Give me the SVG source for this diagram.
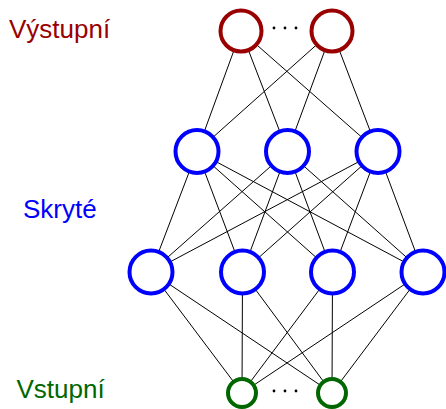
<svg xmlns="http://www.w3.org/2000/svg" width="446" height="409" viewBox="0 0 446 409">
<style>
.lbl{font-family:"Liberation Sans",Arial,sans-serif;font-size:26px}
.e line{stroke:#000;stroke-width:1}
.out{fill:#fff;stroke:#990000;stroke-width:4}
.hid{fill:#fff;stroke:#0000ff;stroke-width:4}
.inp{fill:#fff;stroke:#006600;stroke-width:4}
.dot{fill:#000}
</style>
<rect width="446" height="409" fill="#fff"/>
<text class="lbl" x="9" y="37.5" fill="#990000">Výstupní</text>
<text class="lbl" x="23" y="218" fill="#0000ff">Skryté</text>
<text class="lbl" x="16.5" y="398" fill="#006600">Vstupní</text>
<g id="edges" class="e">
<line x1="241" y1="31" x2="197" y2="151.5"/>
<line x1="241" y1="31" x2="287.5" y2="151.5"/>
<line x1="241" y1="31" x2="378" y2="151.5"/>
<line x1="332" y1="31" x2="197" y2="151.5"/>
<line x1="332" y1="31" x2="287.5" y2="151.5"/>
<line x1="332" y1="31" x2="378" y2="151.5"/>
<line x1="197" y1="151.5" x2="151" y2="272"/>
<line x1="197" y1="151.5" x2="242.5" y2="272"/>
<line x1="197" y1="151.5" x2="332.5" y2="272"/>
<line x1="197" y1="151.5" x2="423" y2="272"/>
<line x1="287.5" y1="151.5" x2="151" y2="272"/>
<line x1="287.5" y1="151.5" x2="242.5" y2="272"/>
<line x1="287.5" y1="151.5" x2="332.5" y2="272"/>
<line x1="287.5" y1="151.5" x2="423" y2="272"/>
<line x1="378" y1="151.5" x2="151" y2="272"/>
<line x1="378" y1="151.5" x2="242.5" y2="272"/>
<line x1="378" y1="151.5" x2="332.5" y2="272"/>
<line x1="378" y1="151.5" x2="423" y2="272"/>
<line x1="151" y1="272" x2="242" y2="393"/>
<line x1="151" y1="272" x2="332" y2="393"/>
<line x1="242.5" y1="272" x2="242" y2="393"/>
<line x1="242.5" y1="272" x2="332" y2="393"/>
<line x1="332.5" y1="272" x2="242" y2="393"/>
<line x1="332.5" y1="272" x2="332" y2="393"/>
<line x1="423" y1="272" x2="242" y2="393"/>
<line x1="423" y1="272" x2="332" y2="393"/>
</g>
<g id="out1"><circle class="out" cx="241" cy="31" r="20.5"/></g>
<g id="out2"><circle class="out" cx="332" cy="31" r="20.5"/></g>
<g id="outdots"><circle class="dot" cx="274" cy="28" r="1.4"/><circle class="dot" cx="285" cy="28" r="1.4"/><circle class="dot" cx="296" cy="28" r="1.4"/></g>
<g id="h1a"><circle class="hid" cx="197" cy="151.5" r="21.5"/></g>
<g id="h1b"><circle class="hid" cx="287.5" cy="151.5" r="21.5"/></g>
<g id="h1c"><circle class="hid" cx="378" cy="151.5" r="21.5"/></g>
<g id="h2a"><circle class="hid" cx="151" cy="272" r="21.5"/></g>
<g id="h2b"><circle class="hid" cx="242.5" cy="272" r="21.5"/></g>
<g id="h2c"><circle class="hid" cx="332.5" cy="272" r="21.5"/></g>
<g id="h2d"><circle class="hid" cx="423" cy="272" r="21.5"/></g>
<g id="in1"><circle class="inp" cx="242" cy="393" r="14"/></g>
<g id="in2"><circle class="inp" cx="332" cy="393" r="14"/></g>
<g id="indots"><circle class="dot" cx="274" cy="391" r="1.4"/><circle class="dot" cx="285" cy="391" r="1.4"/><circle class="dot" cx="296" cy="391" r="1.4"/></g>
</svg>
